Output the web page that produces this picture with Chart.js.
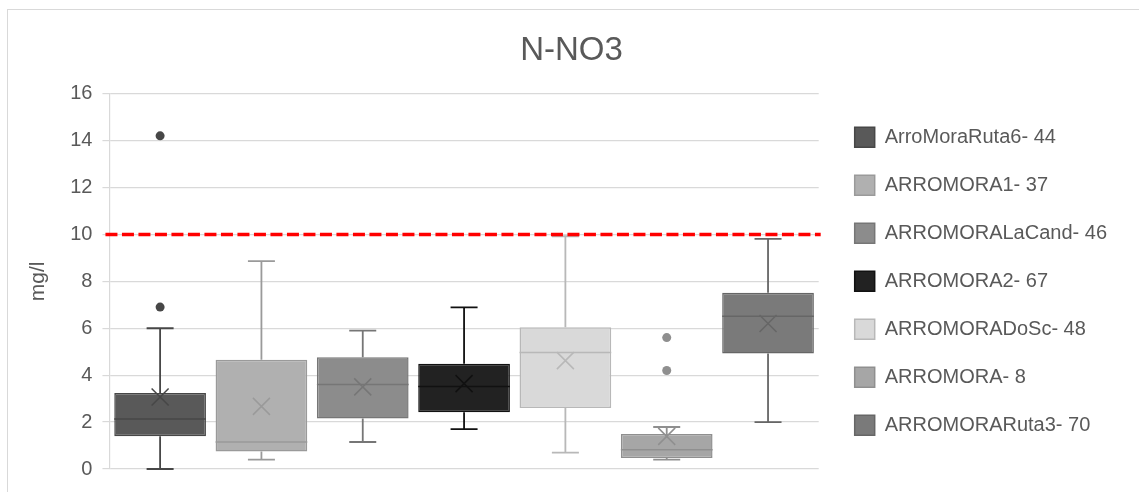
<!DOCTYPE html>
<html>
<head>
<meta charset="utf-8">
<script src="https://cdn.jsdelivr.net/npm/chart.js@4/dist/chart.umd.min.js"></script>
<style>
  html, body { margin: 0; padding: 0; background: #fff; overflow: hidden; }
  #wrap { position: relative; width: 1139px; height: 492px; }
  #frame { position: absolute; left: 7px; top: 9px; width: 1200px; height: 600px; border: 1px solid #d9d9d9; box-sizing: border-box; }
  canvas { position: absolute; left: 0; top: 0; }
</style>
</head>
<body>
<div id="wrap">
  <div id="frame"></div>
  <canvas id="chart" width="1139" height="492"></canvas>
</div>
<script>
// series (one box per station)
let series = ["ArroMoraRuta6- 44", "ARROMORA1- 37", "ARROMORALaCand- 46", "ARROMORA2- 67", "ARROMORADoSc- 48", "ARROMORA- 8", "ARROMORARuta3- 70"];
let mins    = [0.0, 0.40, 1.15, 1.70, 0.70, 0.40, 2.00];
let q1s     = [1.40, 0.75, 2.15, 2.42, 2.60, 0.47, 4.92];
let medians = [2.13, 1.15, 3.60, 3.52, 4.97, 0.82, 6.51];
let q3s     = [3.24, 4.66, 4.76, 4.49, 6.04, 1.49, 7.51];
let maxs    = [6.00, 8.86, 5.90, 6.89, 9.92, 1.79, 9.81];
let means   = [3.07, 2.67, 3.50, 3.64, 4.62, 1.39, 6.20];
let outliers = [[14.2, 6.9], [], [], [], [], [5.6, 4.2], []];
let limit = 10;
let yTicks = [0, 2, 4, 6, 8, 10, 12, 14, 16];

let fills   = ["#595959", "#b0b0b0", "#8c8c8c", "#222222", "#d9d9d9", "#a6a6a6", "#7a7a7a"];
let strokes = ["#474747", "#9a9a9a", "#767676", "#111111", "#b8b8b8", "#8f8f8f", "#666666"];

let datasets = series.map((name, i) => ({
  label: name,
  data: [[q1s[i], q3s[i]]],
  backgroundColor: fills[i],
  borderColor: strokes[i],
  borderWidth: 1.5,
  borderSkipped: false
}));

// whiskers, medians, means, outliers and the 10 mg/l limit
const boxExtras = {
  id: "boxExtras",
  afterDatasetsDraw(chart) {
    const ctx = chart.ctx;
    const y = chart.scales.y;
    ctx.save();
    series.forEach((s, i) => {
      const bar = chart.getDatasetMeta(i).data[0];
      const cx = bar.x, half = bar.width / 2, cap = 13.5;
      ctx.strokeStyle = strokes[i];
      ctx.lineWidth = 1.8;
      ctx.beginPath();
      ctx.moveTo(cx, y.getPixelForValue(q3s[i])); ctx.lineTo(cx, y.getPixelForValue(maxs[i]));
      ctx.moveTo(cx - cap, y.getPixelForValue(maxs[i])); ctx.lineTo(cx + cap, y.getPixelForValue(maxs[i]));
      ctx.moveTo(cx, y.getPixelForValue(q1s[i])); ctx.lineTo(cx, y.getPixelForValue(mins[i]));
      ctx.moveTo(cx - cap, y.getPixelForValue(mins[i])); ctx.lineTo(cx + cap, y.getPixelForValue(mins[i]));
      ctx.stroke();
      ctx.lineWidth = 1.5;
      ctx.beginPath();
      ctx.moveTo(cx - half, y.getPixelForValue(medians[i])); ctx.lineTo(cx + half, y.getPixelForValue(medians[i]));
      ctx.stroke();
      const my = y.getPixelForValue(means[i]), m = 8.5;
      ctx.beginPath();
      ctx.moveTo(cx - m, my - m); ctx.lineTo(cx + m, my + m);
      ctx.moveTo(cx - m, my + m); ctx.lineTo(cx + m, my - m);
      ctx.stroke();
      outliers[i].forEach(v => {
        ctx.beginPath();
        ctx.arc(cx, y.getPixelForValue(v), 4.5, 0, Math.PI * 2);
        ctx.fillStyle = strokes[i];
        ctx.fill();
      });
    });
    const ly = y.getPixelForValue(limit);
    ctx.strokeStyle = "#ff0000";
    ctx.lineWidth = 3.5;
    ctx.setLineDash([12, 4.5]);
    ctx.beginPath();
    ctx.moveTo(chart.chartArea.left - 4, ly);
    ctx.lineTo(chart.chartArea.right + 2, ly);
    ctx.stroke();
    ctx.restore();
  }
};

new Chart(document.getElementById("chart").getContext("2d"), {
  type: "bar",
  data: { labels: [""], datasets: datasets },
  plugins: [boxExtras],
  options: {
    responsive: false,
    animation: false,
    layout: { padding: { left: 26, right: 22, top: 10, bottom: 23 } },
    datasets: { bar: { categoryPercentage: 1.0, barPercentage: 0.905 } },
    plugins: {
      title: {
        display: true,
        text: "N-NO3",
        color: "#595959",
        font: { family: "Liberation Sans", size: 33, weight: "normal" },
        padding: { top: 21, bottom: 23 }
      },
      legend: {
        position: "right",
        fullSize: false,
        maxWidth: 300,
        labels: {
          color: "#595959",
          font: { family: "Liberation Sans", size: 20 },
          boxWidth: 20,
          boxHeight: 20,
          padding: 28
        }
      },
      tooltip: { enabled: false }
    },
    scales: {
      x: { display: false },
      y: {
        min: 0,
        max: 16,
        afterBuildTicks: (scale) => { scale.ticks = yTicks.map(v => ({ value: v })); },
        ticks: { color: "#595959", font: { family: "Liberation Sans", size: 20 }, padding: 10 },
        grid: { color: "#d9d9d9", lineWidth: 1.2, tickLength: 7 },
        border: { color: "#d9d9d9", width: 1.2 },
        title: {
          display: true,
          text: "mg/l",
          color: "#595959",
          font: { family: "Liberation Sans", size: 21 },
          padding: { top: 0, bottom: 9 }
        }
      },
      y2: {
        position: "right",
        display: true,
        ticks: { display: false },
        grid: { display: false },
        border: { display: false },
        afterFit: (scale) => { scale.width = 8; }
      }
    }
  }
});
</script>
</body>
</html>
